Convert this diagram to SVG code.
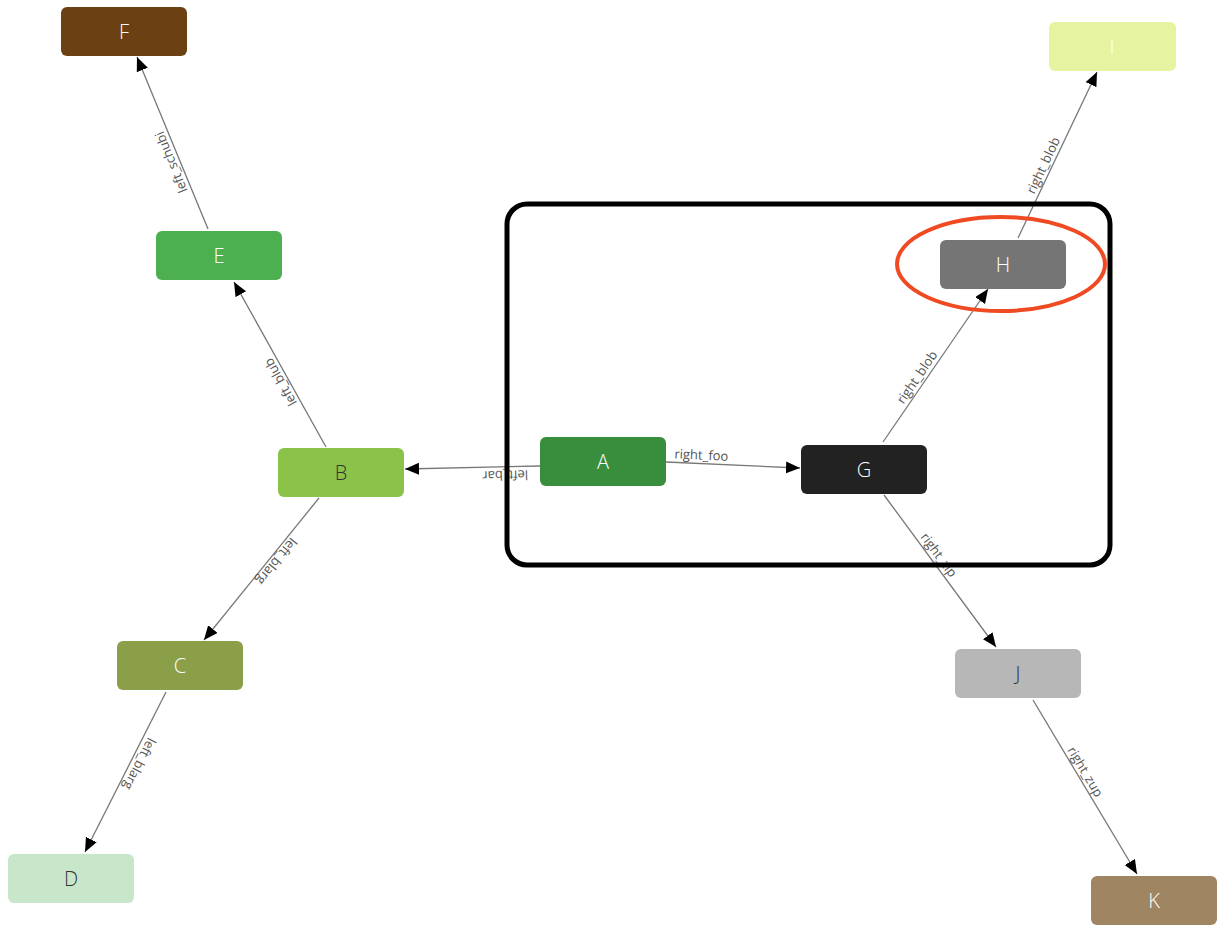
<svg xmlns="http://www.w3.org/2000/svg" width="1220" height="925" viewBox="0 0 1220 925">
<defs>
<style>
.node rect{rx:6px;ry:6px}
.nl{font-family:"Open Sans","Liberation Sans",sans-serif;font-size:20px;font-weight:300;text-anchor:middle;dominant-baseline:central;fill:#ffffff}
.nl.dark{fill:#333333}
.edge{stroke:#777777;stroke-width:1.3;fill:none;marker-end:url(#arr)}
.el{font-family:"Open Sans","Liberation Sans",sans-serif;font-size:13px;fill:#555555;text-anchor:middle}
</style>
<marker id="arr" markerUnits="userSpaceOnUse" markerWidth="15" markerHeight="13" refX="14" refY="6" orient="auto">
<path d="M0,0 L14,6 L0,12 z" fill="#000000"/>
</marker>
</defs>
<rect width="1220" height="925" fill="#ffffff"/>
<g id="connectors">
<line class="edge" x1="540" y1="466" x2="405" y2="469"/>
<line class="edge" x1="666" y1="462" x2="800" y2="468"/>
<line class="edge" x1="883" y1="442" x2="988" y2="289"/>
<line class="edge" x1="1018" y1="238" x2="1097" y2="72"/>
<line class="edge" x1="884" y1="495" x2="996" y2="647"/>
<line class="edge" x1="1033" y1="700" x2="1137" y2="874"/>
<line class="edge" x1="326" y1="447" x2="234" y2="282"/>
<line class="edge" x1="208" y1="229" x2="137" y2="57"/>
<line class="edge" x1="319" y1="498" x2="204" y2="640"/>
<line class="edge" x1="166" y1="692" x2="85" y2="852"/>
<text class="el" transform="translate(505,466.8) rotate(178.7)" y="-4">left_bar</text>
<text class="el" transform="translate(701,463.6) rotate(2.6)" y="-4">right_foo</text>
<text class="el" transform="translate(924,382) rotate(-55.5)" y="-4">right_blob</text>
<text class="el" transform="translate(1051,169) rotate(-64.6)" y="-4">right_blob</text>
<text class="el" transform="translate(932,560) rotate(53.6)" y="-4">right_zip</text>
<text class="el" transform="translate(1078,776) rotate(59.1)" y="-4">right_zup</text>
<text class="el" transform="translate(288,378) rotate(-119.1)" y="-4">left_blub</text>
<text class="el" transform="translate(179,159) rotate(-112.4)" y="-4">left_schubi</text>
<text class="el" transform="translate(270,556) rotate(129)" y="-4">left_blarg</text>
<text class="el" transform="translate(132,760) rotate(116.8)" y="-4">left_blarg</text>
</g>
<g id="group-box">
<rect x="507" y="204" width="603" height="361" rx="20" ry="20" fill="none" stroke="#000000" stroke-width="5"/>
</g>
<g id="node-A" class="node"><rect x="540" y="437" width="126" height="49" fill="#388e3c"/><text class="nl" x="603" y="461.5">A</text></g>
<g id="node-B" class="node"><rect x="278" y="448" width="126" height="49" fill="#8bc34a"/><text class="nl dark" x="341" y="472.5">B</text></g>
<g id="node-C" class="node"><rect x="117" y="641" width="126" height="49" fill="#8a9f47"/><text class="nl" x="180" y="665.5">C</text></g>
<g id="node-D" class="node"><rect x="8" y="854" width="126" height="49" fill="#c8e6c9"/><text class="nl dark" x="71" y="878.5">D</text></g>
<g id="node-E" class="node"><rect x="156" y="231" width="126" height="49" fill="#4caf50"/><text class="nl" x="219" y="255.5">E</text></g>
<g id="node-F" class="node"><rect x="61" y="7" width="126" height="49" fill="#6b4113"/><text class="nl" x="124" y="31.5">F</text></g>
<g id="node-G" class="node"><rect x="801" y="445" width="126" height="49" fill="#222222"/><text class="nl" x="864" y="469.5">G</text></g>
<g id="node-H" class="node"><rect x="940" y="240" width="126" height="49" fill="#757575"/><text class="nl" x="1003" y="264.5">H</text></g>
<g id="node-I" class="node"><rect x="1049" y="22" width="127" height="49" fill="#e6f3a0"/><text class="nl" x="1112" y="46.5">I</text></g>
<g id="node-J" class="node"><rect x="955" y="649" width="126" height="49" fill="#b7b7b7"/><text class="nl dark" x="1018" y="673.5">J</text></g>
<g id="node-K" class="node"><rect x="1091" y="876" width="126" height="49" fill="#a08562"/><text class="nl" x="1154" y="900">K</text></g>
<g id="highlight">
<ellipse cx="1001" cy="264" rx="104" ry="47" fill="none" stroke="#f04a23" stroke-width="4"/>
</g>
</svg>
